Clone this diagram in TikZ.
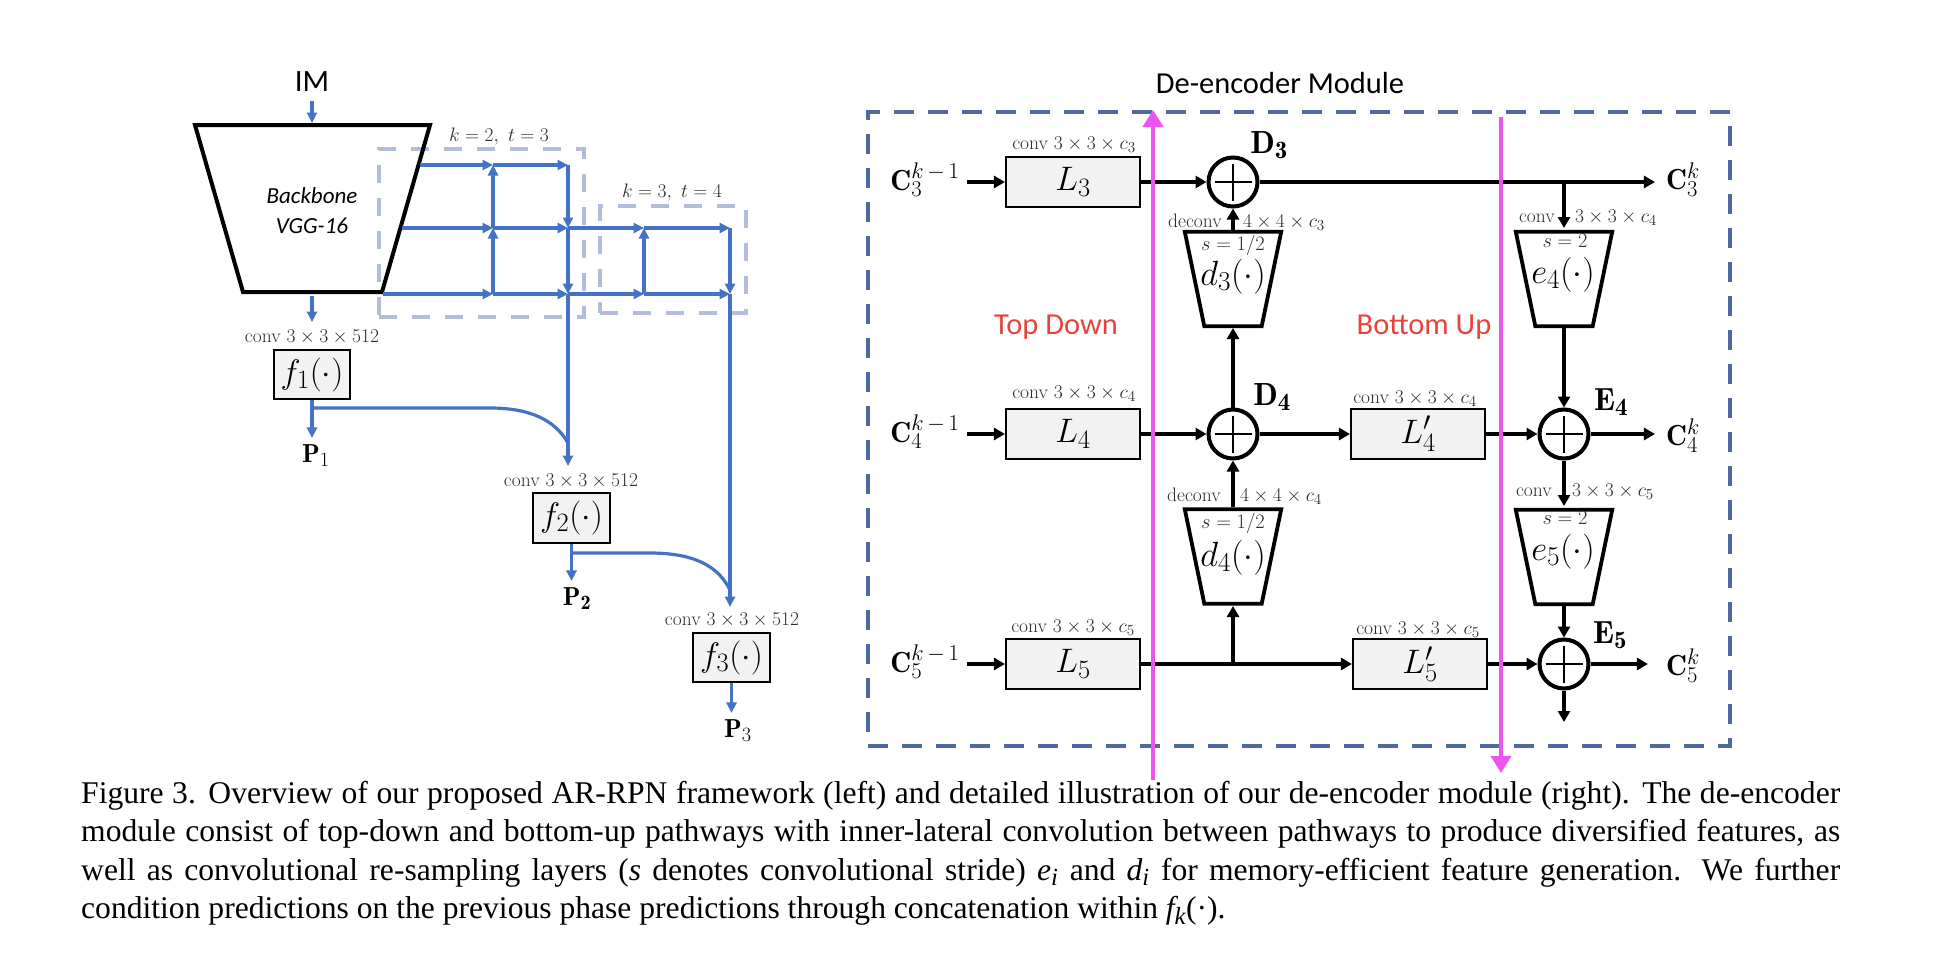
\RequirePackage{fix-cm}
\documentclass[tikz,border=0pt]{standalone}
\usepackage{fontspec}
\usetikzlibrary{arrows.meta}
\newfontfamily\calibri{Carlito}
\newfontfamily\timesf{Liberation Serif}
\renewcommand\defaultscriptratio{.78}
\renewcommand\defaultscriptscriptratio{.6}
\definecolor{myblue}{RGB}{68,114,196}
\definecolor{paleblue}{RGB}{176,190,220}
\definecolor{boxblue}{RGB}{80,106,160}
\definecolor{pinkc}{RGB}{236,84,240}
\definecolor{redc}{RGB}{232,67,58}
\definecolor{boxgray}{RGB}{242,242,242}
\definecolor{lblgray}{RGB}{45,45,45}
\newcommand\fsz[1]{\fontsize{#1}{#1}\selectfont}
% inverted trapezoid (wide top) centred at (#1,#2)
\newcommand\trapd[2]{\draw[trapline] (#1-48.2,#2-47.2) -- (#1+48.2,#2-47.2) -- (#1+28.7,#2+47.2) -- (#1-28.7,#2+47.2) -- cycle;}
\begin{document}
\begin{tikzpicture}[x=1pt,y=-1pt,
  blu/.style={myblue, line width=3.2pt, -{Triangle[length=10.5pt,width=10pt]}},
  bline/.style={myblue, line width=3.2pt},
  blk/.style={black, line width=3.8pt, -{Triangle[length=11pt,width=12pt]}},
  pinkarrow/.style={pinkc, line width=4pt, -{Triangle[length=17pt,width=20pt]}},
  fbox/.style={draw, line width=1.7pt, fill=boxgray, minimum width=76.4pt, minimum height=49.4pt, inner sep=0pt, font=\fsz{34}},
  lbox/.style={fbox, minimum width=134.4pt},
  lab/.style={inner sep=0pt, text=lblgray, font=\fsz{19.5}},
  slab/.style={inner sep=0pt, text=lblgray, font=\fsz{20.5}},
  cin/.style={inner sep=2pt, font=\fsz{29}},
  bl/.style={inner sep=0pt, font=\fsz{32}},
  pl/.style={inner sep=6pt, font=\fsz{26}},
  fn/.style={inner sep=0pt, font=\fsz{35}},
  sumc/.style={circle, draw, line width=4pt, minimum size=49pt, inner sep=0pt,
    path picture={\draw[line width=1.6pt] ([yshift=18.5pt]path picture bounding box.center) -- ([yshift=-18.5pt]path picture bounding box.center)
      ([xshift=-18.5pt]path picture bounding box.center) -- ([xshift=18.5pt]path picture bounding box.center);}},
  trapline/.style={draw, line width=3.8pt},
  grp/.style={draw=paleblue, line width=4pt, dash pattern=on 18pt off 15pt, inner sep=0pt},
  sidetxt/.style={font=\calibri\fsz{30.5}, text=redc, inner sep=0pt, anchor=base},
  capline/.style={anchor=base west, inner sep=0pt, font=\timesf\fsz{31.6}}
]
\path[use as bounding box] (0,0) rectangle (1936,966);

%================ LEFT: AR-RPN framework =================
\node[grp, minimum width=205pt, minimum height=168pt] (grp1) at (481.5,233) {};
\node[grp, minimum width=146pt, minimum height=107pt] (grp2) at (673,259.5) {};
\node[lab, anchor=base] (k2) at (499,141) {$k=2,\ t=3$};
\node[lab, anchor=base] (k3) at (672,197) {$k=3,\ t=4$};

\node[font=\calibri\fsz{31}, inner sep=0pt, anchor=base] (IM) at (312,92) {IM};
\draw[line width=4pt] (195,125) -- (430,125) -- (382,292) -- (243,292) -- cycle;
\node[font=\calibri\itshape\fsz{23}, inner sep=0pt, anchor=base] (bbt1) at (312,203) {Backbone};
\node[font=\calibri\itshape\fsz{23}, inner sep=0pt, anchor=base] (bbt2) at (312,233) {VGG-16};
\coordinate (bbin) at (312,101);
\coordinate (bbtop) at (312,123);
\coordinate (bbbot) at (312,296);
\coordinate (bbo) at (312,322);
\draw[blu] (bbin) -- (bbtop);

% grid coordinates
\coordinate (r1s) at (420,165); \coordinate (g11) at (493,165); \coordinate (g12) at (568,165);
\coordinate (r2s) at (402,228); \coordinate (g21) at (493,228); \coordinate (g22) at (568,228);
\coordinate (g23) at (644,228); \coordinate (g24) at (730,228);
\coordinate (r3s) at (383,294); \coordinate (g31) at (493,294); \coordinate (g32) at (568,294);
\coordinate (g33) at (644,294); \coordinate (g34) at (730,294);

\draw[blu] (r1s) -- (g11); \draw[blu] (g11) -- (g12);
\draw[blu] (r2s) -- (g21); \draw[blu] (g21) -- (g22); \draw[blu] (g22) -- (g23); \draw[blu] (g23) -- (g24);
\draw[blu] (r3s) -- (g31); \draw[blu] (g31) -- (g32); \draw[blu] (g32) -- (g33); \draw[blu] (g33) -- (g34);
\draw[blu] (g31) -- (g21); \draw[blu] (g21) -- (g11);
\draw[blu] (g12) -- (g22); \draw[blu] (g22) -- (g32);
\draw[blu] (g33) -- (g23);
\draw[blu] (g24) -- (g34);

% f1
\draw[blu] (bbbot) -- (bbo);
\node[lab, anchor=base] (cf1) at (312,342) {conv $3\times3\times512$};
\node[fbox] (f1) at (312,374.5) {$f_1(\cdot)$};
\node[pl, anchor=base] (P1) at (316,462) {$\mathbf{P}_1$};
\draw[blu] (f1.south) -- (f1.south |- P1.north);

% f2
\coordinate (f1o) at (312,408);
\coordinate (j2) at (568,443);
\coordinate (f2in) at (568,466);
\draw[bline] (f1o) -- (490,408) .. controls (530,408) and (555,420) .. (j2);
\draw[blu] (g32) -- (f2in);
\node[lab, anchor=base] (cf2) at (571,486) {conv $3\times3\times512$};
\node[fbox] (f2) at (571.5,518) {$f_2(\cdot)$};
\node[pl, anchor=base] (P2) at (577,605) {$\mathbf{P_2}$};
\draw[blu] (f2.south) -- (f2.south |- P2.north);

% f3
\coordinate (f2o) at (571.5,553);
\coordinate (j3) at (730,590);
\coordinate (f3in) at (730,607);
\draw[bline] (f2o) -- (650,553) .. controls (700,553) and (720,570) .. (j3);
\draw[blu] (g34) -- (f3in);
\node[lab, anchor=base] (cf3) at (732,625) {conv $3\times3\times512$};
\node[fbox] (f3) at (731.5,657.5) {$f_3(\cdot)$};
\node[pl, anchor=base] (P3) at (738,737) {$\mathbf{P}_3$};
\draw[blu] (f3.south) -- (f3.south |- P3.north);

%================ RIGHT: De-encoder module =================
\node[draw=boxblue, line width=4pt, dash pattern=on 20pt off 14pt, minimum width=862pt, minimum height=634pt, inner sep=0pt] (mod) at (1299,429) {};
\node[font=\calibri\fsz{30.5}, inner sep=0pt, anchor=base] (title) at (1280,93) {De-encoder Module};

\node[sidetxt] (td) at (1056,334) {Top Down};
\node[sidetxt] (bu) at (1424,334) {Bottom Up};

% inputs
\node[cin, anchor=base] (c3in) at (925,190) {$\mathbf{C}_3^{k\,-\,1}$};
\node[cin, anchor=base] (c4in) at (925,442) {$\mathbf{C}_4^{k\,-\,1}$};
\node[cin, anchor=base] (c5in) at (925,672) {$\mathbf{C}_5^{k\,-\,1}$};

\node[lbox] (L3) at (1073,182) {$L_3$};
\node[lbox] (L4) at (1073,434) {$L_4$};
\node[lbox] (L5) at (1073,664) {$L_5$};
\node[lab, anchor=base] (cL3) at (1074,149) {conv $3\times3\times c_3$};
\node[lab, anchor=base] (cL4) at (1074,398) {conv $3\times3\times c_4$};
\node[lab, anchor=base] (cL5) at (1073,632) {conv $3\times3\times c_5$};

\draw[blk, shorten <=5pt] (c3in.east |- L3.west) -- (L3.west);
\draw[blk, shorten <=5pt] (c4in.east |- L4.west) -- (L4.west);
\draw[blk, shorten <=5pt] (c5in.east |- L5.west) -- (L5.west);

% top-down adders
\node[sumc] (D3) at (1233,182) {};
\node[sumc] (D4) at (1233,434) {};
\node[bl, anchor=base] (D3l) at (1269,153) {$\mathbf{D_3}$};
\node[bl, anchor=base] (D4l) at (1272,405) {$\mathbf{D_4}$};

\trapd{1233}{279}
\trapd{1233}{556.5}
\coordinate (d3t) at (1233,230); \coordinate (d3b) at (1233,328);
\coordinate (d4t) at (1233,507); \coordinate (d4b) at (1233,606);
\node[slab, anchor=base] (s3) at (1233,250) {$s=1/2$};
\node[fn, anchor=base] (d3x) at (1233,285) {$d_3(\cdot)$};
\node[slab, anchor=base] (s4) at (1233,528) {$s=1/2$};
\node[fn, anchor=base] (d4x) at (1233,566) {$d_4(\cdot)$};
\node[lab, anchor=base east] (dc3) at (1222,227) {deconv};
\node[lab, anchor=base west] (dk3) at (1243,227) {$4\times4\times c_3$};
\node[lab, anchor=base east] (dc4) at (1221,501) {deconv};
\node[lab, anchor=base west] (dk4) at (1240,501) {$4\times4\times c_4$};

\draw[blk] (L3) -- (D3);
\draw[blk] (L4) -- (D4);
\draw[blk] (d3t) -- (D3.south);
\draw[blk] (D4.north) -- (d3b);
\draw[blk] (d4t) -- (D4.south);
\coordinate (j5) at (1233,664);
\draw[blk] (j5) -- (d4b);

% bottom-up
\node[lbox] (L4p) at (1418,434) {$L'_4$};
\node[lbox] (L5p) at (1420,664) {$L'_5$};
\node[lab, anchor=base] (cL4p) at (1415,403) {conv $3\times3\times c_4$};
\node[lab, anchor=base] (cL5p) at (1418,634) {conv $3\times3\times c_5$};

\node[sumc] (E4) at (1564,434) {};
\node[sumc] (E5) at (1564,664) {};
\node[bl, anchor=base] (E4l) at (1611,410) {$\mathbf{E_4}$};
\node[bl, anchor=base] (E5l) at (1610,643) {$\mathbf{E_5}$};

\trapd{1564}{279}
\trapd{1564}{557}
\coordinate (e4t) at (1564,228); \coordinate (e4b) at (1564,328);
\coordinate (e5t) at (1564,506); \coordinate (e5b) at (1564,606);
\node[slab, anchor=base] (se4) at (1565,247) {$s=2$};
\node[fn, anchor=base] (e4x) at (1563,283) {$e_4(\cdot)$};
\node[slab, anchor=base] (se5) at (1565,524) {$s=2$};
\node[fn, anchor=base] (e5x) at (1563,560) {$e_5(\cdot)$};
\node[lab, anchor=base east] (ce4) at (1555,222) {conv};
\node[lab, anchor=base west] (ke4) at (1575,222) {$3\times3\times c_4$};
\node[lab, anchor=base east] (ce5) at (1552,496) {conv};
\node[lab, anchor=base west] (ke5) at (1572,496) {$3\times3\times c_5$};

\node[cin, anchor=base] (c3out) at (1683,189) {$\mathbf{C}_3^{k}$};
\node[cin, anchor=base] (c4out) at (1683,445) {$\mathbf{C}_4^{k}$};
\node[cin, anchor=base] (c5out) at (1683,675) {$\mathbf{C}_5^{k}$};

\coordinate (j34) at (1564,182);
\coordinate (E5end) at (1564,722);
\draw[blk, shorten >=9pt] (D3.east) -- (c3out.west |- D3.east);
\draw[blk] (j34) -- (e4t);
\draw[blk] (D4) -- (L4p);
\draw[blk] (L5) -- (L5p);
\draw[blk] (L4p) -- (E4);
\draw[blk] (L5p) -- (E5);
\draw[blk] (e4b) -- (E4.north);
\draw[blk] (E4.south) -- (e5t);
\draw[blk] (e5b) -- (E5.north);
\draw[blk] (E5.south) -- (E5end);
\draw[blk, shorten >=9pt] (E4.east) -- (c4out.west |- E4.east);
\draw[blk, shorten >=16pt] (E5.east) -- (c5out.west |- E5.east);

% pathway markers
\coordinate (pk1b) at (1153,780); \coordinate (pk1t) at (1153,110);
\coordinate (pk2t) at (1501,117); \coordinate (pk2b) at (1501,773);
\draw[pinkarrow] (pk1b) -- (pk1t);
\draw[pinkarrow] (pk2t) -- (pk2b);

%================ CAPTION =================
\node[capline] (cap1) at (81,803) {\makebox[1759pt][s]{Figure 3.  Overview of our proposed AR-RPN framework (left) and detailed illustration of our de-encoder module (right). The de-encoder}};
\node[capline] (cap2) at (81,841) {\makebox[1759pt][s]{module consist of top-down and bottom-up pathways with inner-lateral convolution between pathways to produce diversified features, as}};
\node[capline] (cap3) at (81,880) {\makebox[1759pt][s]{well as convolutional re-sampling layers ({\itshape s} denotes convolutional stride) {\itshape e}\textsubscript{\itshape i} and {\itshape d}\textsubscript{\itshape i} for memory-efficient feature generation.  We further}};
\node[capline] (cap4) at (81,918) {condition predictions on the previous phase predictions through concatenation within {\itshape f}\textsubscript{\itshape k}(·).};
\end{tikzpicture}
\end{document}
